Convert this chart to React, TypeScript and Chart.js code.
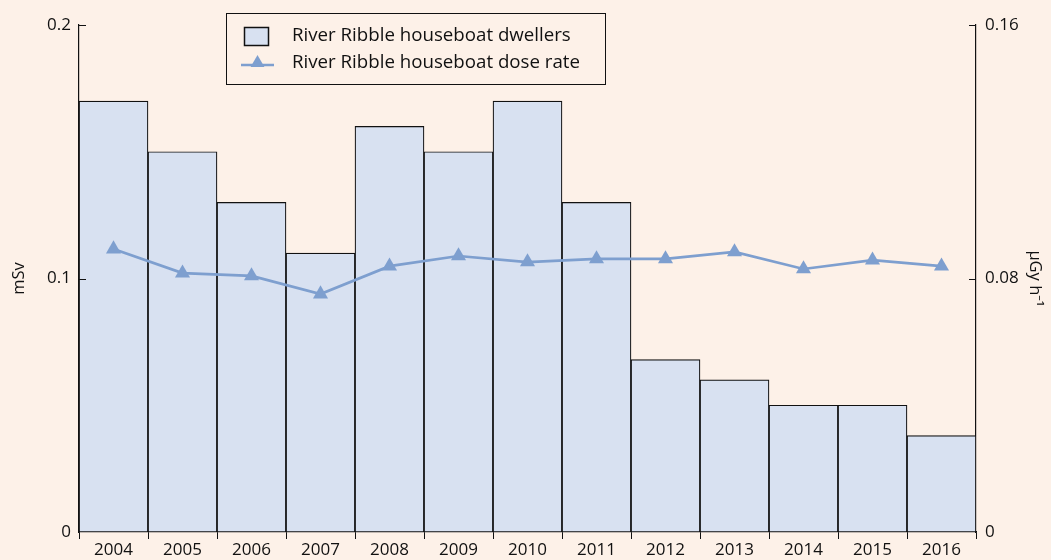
import React, { useEffect, useRef } from "react";
import { Chart, registerables } from "chart.js";

Chart.register(...registerables);

const years = ["2004", "2005", "2006", "2007", "2008", "2009", "2010", "2011", "2012", "2013", "2014", "2015", "2016"];
const dwellersDose = [0.17, 0.15, 0.13, 0.11, 0.16, 0.15, 0.17, 0.13, 0.068, 0.06, 0.05, 0.05, 0.038];
const doseRate = [0.0893, 0.0817, 0.0808, 0.0751, 0.0839, 0.0871, 0.0852, 0.0862, 0.0862, 0.0884, 0.083, 0.0858, 0.0839];
const leftTicks = [0, 0.1, 0.2];
const rightTicks = [0, 0.08, 0.16];
const dwellersLabel = "River Ribble houseboat dwellers";
const rateLabel = "River Ribble houseboat dose rate";
const leftTitle = "mSv";
const rightTitle = "\u00B5Gy h\u207B\u00B9";

const BG = "#fdf1e8";
const BAR = "#d8e1f1";
const LINE = "#7e9fcf";
const INK = "#111111";
const FONT = "'Open Sans', 'Noto Sans', sans-serif";

const bgPlugin = {
  id: "bg",
  beforeDraw(chart: any) {
    const { ctx, width, height } = chart;
    ctx.save();
    ctx.fillStyle = BG;
    ctx.fillRect(0, 0, width, height);
    ctx.restore();
  },
};

const innerTicksPlugin = {
  id: "innerTicks",
  afterDraw(chart: any) {
    const { ctx, chartArea } = chart;
    const yl = chart.scales.y;
    const yr = chart.scales.y2;
    ctx.save();
    ctx.strokeStyle = INK;
    ctx.lineWidth = 1;
    leftTicks.forEach((v) => {
      if (v === 0) return;
      const py = Math.round(yl.getPixelForValue(v)) + 0.5;
      ctx.beginPath();
      ctx.moveTo(chartArea.left, py);
      ctx.lineTo(chartArea.left + 7, py);
      ctx.stroke();
    });
    rightTicks.forEach((v) => {
      if (v === 0) return;
      const py = Math.round(yr.getPixelForValue(v)) + 0.5;
      ctx.beginPath();
      ctx.moveTo(chartArea.right, py);
      ctx.lineTo(chartArea.right - 7, py);
      ctx.stroke();
    });
    ctx.restore();
  },
};

const legendPlugin = {
  id: "boxLegend",
  afterDraw(chart: any) {
    const { ctx } = chart;
    ctx.save();
    ctx.fillStyle = BG;
    ctx.fillRect(226, 13, 379, 71);
    ctx.strokeStyle = INK;
    ctx.lineWidth = 1;
    ctx.strokeRect(226.5, 13.5, 379, 71);
    // bar swatch
    ctx.fillStyle = BAR;
    ctx.fillRect(244.5, 27.5, 24, 18);
    ctx.lineWidth = 1.5;
    ctx.strokeRect(244.5, 27.5, 24, 18);
    // line swatch
    ctx.strokeStyle = LINE;
    ctx.lineWidth = 2.5;
    ctx.beginPath();
    ctx.moveTo(241, 65);
    ctx.lineTo(274, 65);
    ctx.stroke();
    ctx.fillStyle = LINE;
    const r = 8;
    const cx = 257.5, cy = 63;
    ctx.beginPath();
    ctx.moveTo(cx, cy - r);
    ctx.lineTo(cx + r * 0.866, cy + r * 0.5);
    ctx.lineTo(cx - r * 0.866, cy + r * 0.5);
    ctx.closePath();
    ctx.fill();
    // text
    ctx.fillStyle = INK;
    ctx.font = "18.7px " + FONT;
    ctx.textBaseline = "middle";
    ctx.textAlign = "left";
    ctx.fillText(dwellersLabel, 292, 36);
    ctx.fillText(rateLabel, 292, 63);
    ctx.restore();
  },
};

export default function App() {
  const ref = useRef<HTMLCanvasElement | null>(null);

  useEffect(() => {
    document.body.style.margin = "0";
    const canvas = ref.current;
    if (!canvas) return;
    const chart = new Chart(canvas, {
      type: "bar",
      data: {
        labels: years,
        datasets: [
          {
            type: "line",
            label: rateLabel,
            data: doseRate,
            yAxisID: "y2",
            borderColor: LINE,
            backgroundColor: LINE,
            borderWidth: 2.7,
            pointStyle: "triangle",
            pointRadius: 8.7,
            pointBorderWidth: 0,
            pointBackgroundColor: LINE,
            tension: 0,
            order: 0,
          } as any,
          {
            type: "bar",
            label: dwellersLabel,
            data: dwellersDose,
            yAxisID: "y",
            backgroundColor: BAR,
            borderColor: INK,
            borderWidth: 1.2,
            borderSkipped: false,
            categoryPercentage: 1,
            barPercentage: 1,
            order: 1,
          } as any,
        ],
      },
      options: {
        responsive: false,
        animation: false,
        layout: { padding: { top: 25, left: 0, right: 0, bottom: 0 } },
        font: { family: FONT },
        plugins: {
          legend: { display: false },
          tooltip: { enabled: false },
        },
        scales: {
          x: {
            offset: true,
            grid: {
              display: true,
              drawOnChartArea: false,
              drawTicks: true,
              tickLength: 7,
              color: INK,
              offset: true,
            },
            border: { display: true, color: INK, width: 1.2 },
            ticks: {
              color: INK,
              font: { family: FONT, size: 17 },
              padding: 1,
              maxRotation: 0,
              autoSkip: false,
            },
            afterFit: (s: any) => {
              s.height = 28;
            },
          },
          y: {
            position: "left",
            min: 0,
            max: 0.2,
            grid: { display: false, drawTicks: false },
            border: { display: true, color: INK, width: 1.2 },
            afterBuildTicks: (s: any) => {
              s.ticks = leftTicks.map((v) => ({ value: v }));
            },
            ticks: {
              color: INK,
              font: { family: FONT, size: 17 },
              padding: 8,
              callback: (v: any) => String(v),
            },
            title: {
              display: true,
              text: leftTitle,
              color: INK,
              font: { family: FONT, size: 16.5 },
              padding: { top: 9, bottom: 0 },
            },
            afterFit: (s: any) => {
              s.width = 79;
            },
          },
          y2: {
            position: "right",
            min: 0,
            max: 0.16,
            grid: { display: false, drawTicks: false },
            border: { display: true, color: INK, width: 1.2 },
            afterBuildTicks: (s: any) => {
              s.ticks = rightTicks.map((v) => ({ value: v }));
            },
            ticks: {
              color: INK,
              font: { family: FONT, size: 17 },
              padding: 9,
              callback: (v: any) => String(v),
            },
            title: {
              display: true,
              text: rightTitle,
              color: INK,
              font: { family: FONT, size: 16.5 },
              padding: { top: 6, bottom: 0 },
            },
            afterFit: (s: any) => {
              s.width = 75;
            },
          },
        },
      } as any,
      plugins: [bgPlugin, innerTicksPlugin, legendPlugin],
    });
    return () => chart.destroy();
  }, []);

  return (
    <div style={{ position: "relative", width: 1051, height: 560 }}>
      <canvas ref={ref} width={1051} height={560} style={{ display: "block" }} />
    </div>
  );
}
